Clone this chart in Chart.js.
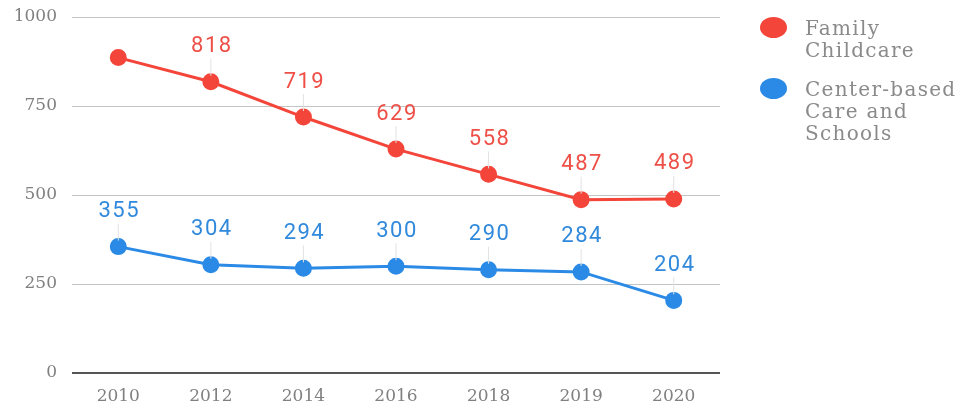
<!DOCTYPE html>
<html lang="en">
<head>
<meta charset="UTF-8">
<title>Childcare providers</title>
<script src="https://cdn.jsdelivr.net/npm/chart.js"></script>
<style>
  html, body { margin: 0; padding: 0; background: #fff; }
  .wrap { position: relative; width: 980px; height: 405px; }
  #legend { position: absolute; left: 760px; top: 17px; font-family: "DejaVu Serif", serif; font-size: 20px; letter-spacing: 1.3px; color: #8a8a8a; line-height: 22px; }
  .item { position: relative; padding-left: 45px; margin-bottom: 17px; white-space: nowrap; }
  .dot { position: absolute; left: 0; top: 0px; width: 27px; height: 21px; border-radius: 50%; }
</style>
</head>
<body>
<div class="wrap">
  <canvas id="chart" width="980" height="405"></canvas>
  <div id="legend"></div>
</div>
<script>
const years = ['2010', '2012', '2014', '2016', '2018', '2019', '2020'];
const familyChildcare = [886, 818, 719, 629, 558, 487, 489];
const centerBased = [355, 304, 294, 300, 290, 284, 204];
const seriesNames = [['Family', 'Childcare'], ['Center-based', 'Care and', 'Schools']];
const yTicks = [0, 250, 500, 750, 1000];

const red = '#f4453a';
const blue = '#2a8ae6';

// labels above points with a thin stem, skipped if they would leave the plot
const pointLabels = {
    id: 'pointLabels',
    afterDatasetsDraw(chart) {
        const ctx = chart.ctx;
        const top = chart.chartArea.top;
        ctx.save();
        ctx.font = '22px Roboto, sans-serif';
        ctx.letterSpacing = '1.5px';
        ctx.textAlign = 'center';
        ctx.textBaseline = 'middle';
        chart.data.datasets.forEach((ds, i) => {
            chart.getDatasetMeta(i).data.forEach((pt, j) => {
                const ly = pt.y - 35;
                if (ly - 10 < top) return;
                ctx.strokeStyle = '#e2e2e2';
                ctx.lineWidth = 1;
                ctx.beginPath();
                ctx.moveTo(pt.x, ly + 12);
                ctx.lineTo(pt.x, pt.y - 6);
                ctx.stroke();
                ctx.fillStyle = ds.labelColor;
                ctx.fillText(ds.data[j], pt.x + 1, ly);
            });
        });
        ctx.restore();
    }
};

const tickFont = { family: 'DejaVu Serif', size: 17 };

const chart = new Chart(document.getElementById('chart'), {
    type: 'line',
    data: {
        labels: years,
        datasets: [
            {
                label: seriesNames[0].join(' '),
                data: familyChildcare,
                borderColor: red,
                backgroundColor: red,
                labelColor: '#ee5048',
                borderWidth: 3,
                pointRadius: 7,
                pointHoverRadius: 7,
                tension: 0
            },
            {
                label: seriesNames[1].join(' '),
                data: centerBased,
                borderColor: blue,
                backgroundColor: blue,
                labelColor: '#3189dc',
                borderWidth: 3,
                pointRadius: 7,
                pointHoverRadius: 7,
                tension: 0
            }
        ]
    },
    options: {
        responsive: false,
        animation: false,
        layout: { padding: { top: 17, right: 260, left: 0, bottom: 0 } },
        plugins: {
            legend: { display: false },
            tooltip: { enabled: false }
        },
        scales: {
            x: {
                offset: true,
                grid: { display: false },
                border: { display: false },
                ticks: { color: '#808080', font: tickFont, padding: 5 },
                afterFit: s => { s.height = 32; }
            },
            y: {
                min: 0,
                max: 1000,
                afterBuildTicks: s => { s.ticks = yTicks.map(v => ({ value: v })); },
                grid: {
                    drawTicks: false,
                    color: ctx => ctx.tick.value === 0 ? '#555' : '#c4c4c4',
                    lineWidth: ctx => ctx.tick.value === 0 ? 2 : 1
                },
                border: { display: false },
                ticks: { color: '#808080', font: tickFont, padding: 15, callback: v => String(v) },
                afterFit: s => { s.width = 72; s.paddingTop = 0; s.paddingBottom = 0; }
            }
        }
    },
    plugins: [pointLabels]
});

// legend
const legend = document.getElementById('legend');
chart.data.datasets.forEach((ds, i) => {
    const item = document.createElement('div');
    item.className = 'item';
    item.innerHTML = '<span class="dot" style="background:' + ds.borderColor + '"></span>' + seriesNames[i].join('<br>');
    legend.appendChild(item);
});
</script>
</body>
</html>
